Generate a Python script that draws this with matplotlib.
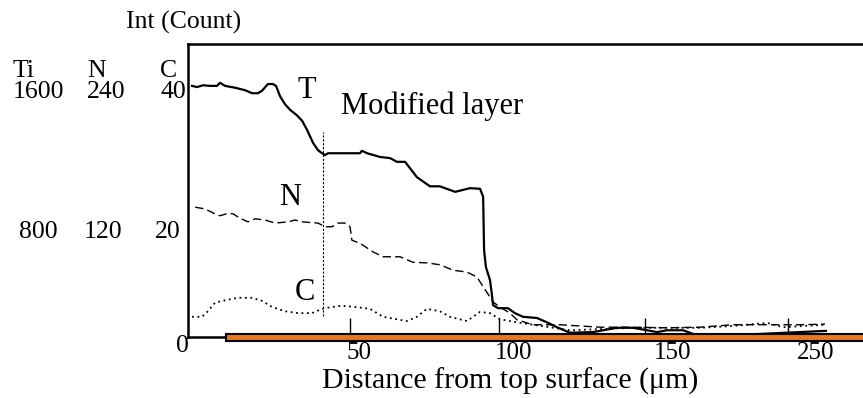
import matplotlib.pyplot as plt
from matplotlib.patches import Rectangle

plt.rcParams["font.family"] = ["Liberation Serif", "DejaVu Serif"]

# depth axis (drawn units) and the three element profiles
t_x = [1.3, 2.9, 4.8, 7.1, 9.3, 10.3, 11.9, 15.1, 18.3, 20.6, 22.5, 23.8, 25.7, 27.3, 28.3,
       29.6, 31.2, 32.8, 35.0, 36.7, 38.3, 40.2, 41.8, 43.1, 44.1, 45.0, 47.3, 51.1, 55.3,
       55.9, 57.6, 61.7, 65.0, 67.2, 69.8, 73.6, 77.8, 81.0, 85.9, 90.7, 93.9, 94.9, 95.2,
       95.8, 97.1, 97.7, 98.1, 99.7, 102.9, 105.1, 107.7, 112.2, 115.4, 118.6, 122.8, 130.2,
       137.9, 143.1, 147.6, 150.8, 154.0, 159.2, 162.4, 165.6, 183.9, 205.1]
t_y = [41.0, 40.8, 41.1, 41.0, 41.0, 41.5, 41.0, 40.7, 40.3, 39.8, 39.8, 40.2, 41.3, 41.3, 41.0,
       39.3, 38.0, 37.1, 36.2, 35.3, 33.8, 31.7, 30.5, 30.0, 29.7, 30.0, 30.0, 30.0, 30.0,
       30.4, 30.0, 29.4, 29.2, 28.6, 28.6, 26.1, 24.6, 24.6, 23.7, 24.3, 24.2, 22.9, 14.2,
       11.4, 9.3, 7.0, 5.2, 4.7, 4.7, 3.9, 3.3, 3.1, 2.4, 1.6, 0.7, 0.8,
       1.5, 1.5, 1.1, 0.8, 1.1, 1.1, 0.5, 0.2, 0.5, 1.0]

n_x = [2.3, 5.5, 8.7, 10.3, 12.9, 14.5, 16.7, 19.3, 21.5, 24.8, 28.0, 32.2, 34.4, 36.7, 41.8,
       44.1, 46.3, 48.2, 50.5, 52.1, 52.7, 55.3, 59.5, 62.7, 68.2, 72.3, 76.8, 81.0, 85.2,
       89.7, 92.9, 96.1, 98.1, 100.3, 103.5, 105.8, 110.9, 119.6, 132.5, 143.1, 154.0, 164.6,
       175.2, 186.2, 196.8, 204.8]
n_y = [21.2, 20.9, 20.1, 19.8, 20.2, 20.1, 19.4, 18.8, 19.3, 19.1, 18.6, 18.8, 19.1, 18.8, 18.6,
       18.0, 18.0, 18.6, 18.6, 18.0, 15.8, 15.3, 13.9, 13.1, 13.1, 12.2, 12.1, 11.8, 10.9,
       10.6, 9.8, 7.3, 5.7, 4.9, 3.9, 2.8, 2.0, 2.0, 1.6, 1.6, 1.5, 1.6,
       2.0, 2.0, 2.0, 2.1]

c_x = [1.3, 4.5, 6.4, 8.7, 11.9, 16.1, 20.6, 23.8, 27.0, 31.2, 35.4, 39.9, 43.1, 46.3, 49.5,
       53.7, 58.5, 62.7, 70.4, 73.6, 76.8, 81.0, 84.2, 89.7, 93.9, 97.1, 100.3, 105.8, 110.9,
       122.8, 143.1, 164.6, 175.2, 186.2, 191.3, 204.8]
c_y = [3.3, 3.3, 4.2, 5.6, 6.0, 6.4, 6.4, 5.9, 4.9, 4.2, 3.9, 3.9, 4.6, 4.9, 5.1,
       4.9, 4.6, 3.3, 2.6, 3.3, 4.6, 4.2, 3.3, 2.6, 4.1, 3.9, 2.9, 2.4, 2.0,
       1.1, 1.5, 1.5, 1.8, 2.3, 1.6, 2.0]

# tick marks along the depth axis and the labels printed next to them
x_ticks = [52, 100, 147, 193]
x_tick_labels = ["50", "100", "150", "250"]
layer_depth = 43.4

W, H = 863, 398
fig = plt.figure(figsize=(W / 100, H / 100), dpi=100)
ax = fig.add_axes([188 / W, (H - 337) / H, 1 - 188 / W, (337 - 44) / H])
ax.set_xlim(0, (W - 188) / 3.11)
ax.set_ylim(0, (337 - 44) / 6.125)

ax.plot(t_x, t_y, color="black", lw=1.6)
ax.plot(n_x, n_y, color="black", lw=1.0, linestyle=(0, (6, 3)))
ax.plot(c_x, c_y, color="black", lw=1.3, linestyle=(0, (1, 2)))
ax.plot([layer_depth, layer_depth], [3.4, 33.5], color="black", lw=0.8, linestyle=(0, (2, 1.5)))

# orange strip on the bottom axis
ax.add_patch(Rectangle((12.2, -0.65), 250, 1.15, facecolor="#e8781e", edgecolor="black",
                       lw=1.5, clip_on=False, zorder=3))

for s in ["left", "top", "bottom"]:
    ax.spines[s].set_linewidth(1.8)
ax.spines["right"].set_visible(False)
ax.set_yticks([])
ax.set_xticks(x_ticks)
ax.set_xticklabels([])
ax.tick_params(axis="x", direction="in", length=14, width=1.0)

ax.text(38.3, 40.3, "T", fontsize=22, ha="center", va="center")
ax.text(32.8, 22.7, "N", fontsize=22, ha="center", va="center")
ax.text(37.6, 7.2, "C", fontsize=22, ha="center", va="center")
ax.text(78.5, 37.6, "Modified layer", fontsize=22, ha="center", va="center")

def px(x, y, s, size=18.5, ha="center"):
    fig.text(x / W, 1 - y / H, s, fontsize=size, ha=ha, va="center")

px(184, 22, "Int (Count)", 18.5)
for x, name, top in [(13, "Ti", "1600"), (87, "N", "240"), (160, "C", "40")]:
    px(x, 71, name, ha="left")
    px(x, 92, top, ha="left")
px(38, 232, "800")
px(103, 232, "120")
px(168, 232, "20")
px(182, 346, "0")
for x, lab in zip([359, 514, 673, 816], x_tick_labels):
    px(x, 353, lab, 18)
px(510, 381, "Distance from top surface (\u03bcm)", 21.5)

fig.savefig("out.png", dpi=100)
